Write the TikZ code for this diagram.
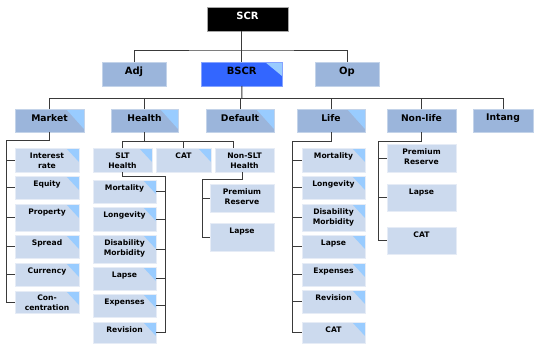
\documentclass[tikz,border=0pt]{standalone}
\usepackage{fontspec}
\setmainfont{DejaVu Sans}
\definecolor{lvA}{HTML}{9BB5DB}
\definecolor{lvB}{HTML}{CCDAEE}
\definecolor{triB}{HTML}{99CCFF}
\definecolor{bscrB}{HTML}{3366FF}
\definecolor{lineC}{HTML}{3A3A3A}
\tikzset{
  boxbase/.style={rectangle, inner sep=0pt, outer sep=0pt, line width=0.5pt},
  tri/.style 2 args={path picture={\fill[triB] (path picture bounding box.north east) -- ++(-#1pt,0pt) -- ++(#1pt,-#2pt) -- cycle;}},
  topbox/.style={boxbase, fill=black, draw=gray!70},
  lvone/.style={boxbase, fill=lvA, draw=lvA!60!white},
  bscrbox/.style={boxbase, fill=bscrB, draw=bscrB!60!white, tri={17}{14}},
  lvtwo/.style={boxbase, fill=lvA, draw=lvA!60!white},
  lvtwot/.style={lvtwo, tri={18}{20}},
  lvthree/.style={boxbase, fill=lvB, draw=lvB!50!white},
  lvthreet/.style={lvthree, tri={13}{14}},
  tone/.style={font=\fontsize{10}{11}\selectfont\bfseries, align=center, inner sep=0pt, anchor=north},
  tonew/.style={tone, text=white},
  tbig/.style={font=\fontsize{9.2}{10}\selectfont\bfseries, align=center, inner sep=0pt, anchor=north},
  tsmall/.style={font=\fontsize{7.6}{10}\selectfont\bfseries, align=center, inner sep=0pt, anchor=north},
  conn/.style={draw=lineC, line width=1pt, line join=miter}
}
% name, box style, text style, x1, y1, x2, y2, text, text offset
\newcommand\bx[9]{%
  \pgfmathsetlengthmacro\mybw{#6-#4}%
  \pgfmathsetlengthmacro\mybh{#7-#5}%
  \node[#2, anchor=north west, minimum width=\mybw, minimum height=\mybh] (#1) at (#4,#5) {};
  \node[#3] (#1t) at ([yshift=-#9pt]#1.north) {#8};
}
\begin{document}
\begin{tikzpicture}[x=1pt, y=-1pt]
\useasboundingbox[fill=white] (0,0) rectangle (534,343);
% top levels
\bx{scr}{topbox}{tonew}{207}{7}{288}{31}{SCR}{5}
\bx{adj}{lvone}{tone}{102}{62}{166}{86}{Adj}{4.8}
\bx{bscr}{bscrbox}{tone}{201.5}{62}{282}{86}{BSCR}{4.8}
\bx{op}{lvone}{tone}{315}{62}{379}{86}{Op}{4.8}
% level 2
\bx{market}{lvtwot}{tbig}{15}{109}{84}{132}{Market}{5}
\bx{health}{lvtwot}{tbig}{111}{109}{178}{132}{Health}{5}
\bx{default}{lvtwot}{tbig}{206}{109}{274}{132}{Default}{5}
\bx{life}{lvtwot}{tbig}{297}{109}{365}{132}{Life}{5}
\bx{nonlife}{lvtwo}{tbig}{387}{109}{456}{132}{Non-life}{5}
\bx{intang}{lvtwo}{tbig}{473}{109}{533}{132}{Intang}{5}
% market children
\bx{ir}{lvthreet}{tsmall}{15}{148}{79}{172}{Interest\\rate}{4.5}
\bx{eq}{lvthreet}{tsmall}{15}{176}{79}{199}{Equity}{4.5}
\bx{pr}{lvthreet}{tsmall}{15}{204}{79}{231}{Property}{4.5}
\bx{sp}{lvthreet}{tsmall}{15}{235}{79}{258}{Spread}{4.5}
\bx{cu}{lvthreet}{tsmall}{15}{263}{79}{286}{Currency}{4.5}
\bx{co}{lvthreet}{tsmall}{15}{291}{79}{313}{Con-\\centration}{3.5}
% health children
\bx{slt}{lvthreet}{tsmall}{93}{148}{152}{172}{SLT\\Health}{4.5}
\bx{hcat}{lvthreet}{tsmall}{156}{148}{211}{172}{CAT}{4.5}
\bx{nslt}{lvthree}{tsmall}{215}{148}{274}{172}{Non-SLT\\Health}{4.5}
% SLT children
\bx{hmo}{lvthreet}{tsmall}{93}{180}{156}{203}{Mortality}{4.5}
\bx{hlo}{lvthreet}{tsmall}{93}{207}{156}{231}{Longevity}{4.5}
\bx{hdi}{lvthreet}{tsmall}{93}{235}{156}{263}{Disability\\Morbidity}{4.5}
\bx{hla}{lvthreet}{tsmall}{93}{267}{156}{290}{Lapse}{4.5}
\bx{hex}{lvthreet}{tsmall}{93}{294}{156}{317}{Expenses}{4.5}
\bx{hre}{lvthreet}{tsmall}{93}{322}{156}{343}{Revision}{4.5}
% Non-SLT children
\bx{npr}{lvthree}{tsmall}{210}{184}{274}{212}{Premium\\Reserve}{4.5}
\bx{nla}{lvthree}{tsmall}{210}{223}{274}{251}{Lapse}{4.5}
% life children
\bx{lmo}{lvthreet}{tsmall}{302}{148}{365}{172}{Mortality}{4.5}
\bx{llo}{lvthreet}{tsmall}{302}{176}{365}{199}{Longevity}{4.5}
\bx{ldi}{lvthreet}{tsmall}{302}{204}{365}{231}{Disability\\Morbidity}{4.5}
\bx{lla}{lvthreet}{tsmall}{302}{235}{365}{258}{Lapse}{4.5}
\bx{lex}{lvthreet}{tsmall}{302}{263}{365}{286}{Expenses}{4.5}
\bx{lre}{lvthreet}{tsmall}{302}{290}{365}{313}{Revision}{4.5}
\bx{lca}{lvthreet}{tsmall}{302}{322}{365}{343}{CAT}{4.5}
% non-life children
\bx{fpr}{lvthree}{tsmall}{387}{144}{456}{172}{Premium\\Reserve}{4.5}
\bx{fla}{lvthree}{tsmall}{387}{184}{456}{211}{Lapse}{4.5}
\bx{fca}{lvthree}{tsmall}{387}{227}{456}{254}{CAT}{4.5}
% connectors
\coordinate (b1) at (242,50);
\coordinate (b2) at (242,98.5);
\draw[conn] (scr.south -| bscr.north) -- (bscr.north);
\draw[conn] (adj.north) |- (b1) -| (op.north);
\draw[conn] (bscr.south) -- (b2);
\draw[conn] (market.north) |- (b2) -| (intang.north);
\foreach \n in {health,default,life,nonlife} \draw[conn] (\n.north) -- (\n.north |- b2);
% market
\coordinate (mks) at (6,140);
\draw[conn] (market.south) |- (mks) |- (co.west);
\foreach \n in {ir,eq,pr,sp,cu} \draw[conn] (mks |- \n.west) -- (\n.west);
% health
\coordinate (hs) at (143,141);
\draw[conn] (health.south) -- (health.south |- hs);
\draw[conn] (slt.north) |- ([xshift=-11pt]nslt.north |- hs) -- ([xshift=-11pt]nslt.north);
\draw[conn] (hcat.north) -- (hcat.north |- hs);
% SLT
\coordinate (ss) at (165,176);
\draw[conn] (slt.south) |- (ss) |- (hre.east);
\foreach \n in {hmo,hlo,hdi,hla,hex} \draw[conn] (ss |- \n.east) -- (\n.east);
% Non-SLT
\coordinate (ns) at (202,179.5);
\draw[conn] ([xshift=-2pt]nslt.south) |- (ns) |- (nla.west);
\draw[conn] (ns |- npr.west) -- (npr.west);
% life
\coordinate (ls) at (292,141);
\draw[conn] (life.south) |- (ls) |- (lca.west);
\foreach \n in {lmo,llo,ldi,lla,lex,lre} \draw[conn] (ls |- \n.west) -- (\n.west);
% non-life
\coordinate (fs) at (378,141);
\draw[conn] (nonlife.south) |- (fs) |- (fca.west);
\foreach \n in {fpr,fla} \draw[conn] (fs |- \n.west) -- (\n.west);
\end{tikzpicture}
\end{document}
